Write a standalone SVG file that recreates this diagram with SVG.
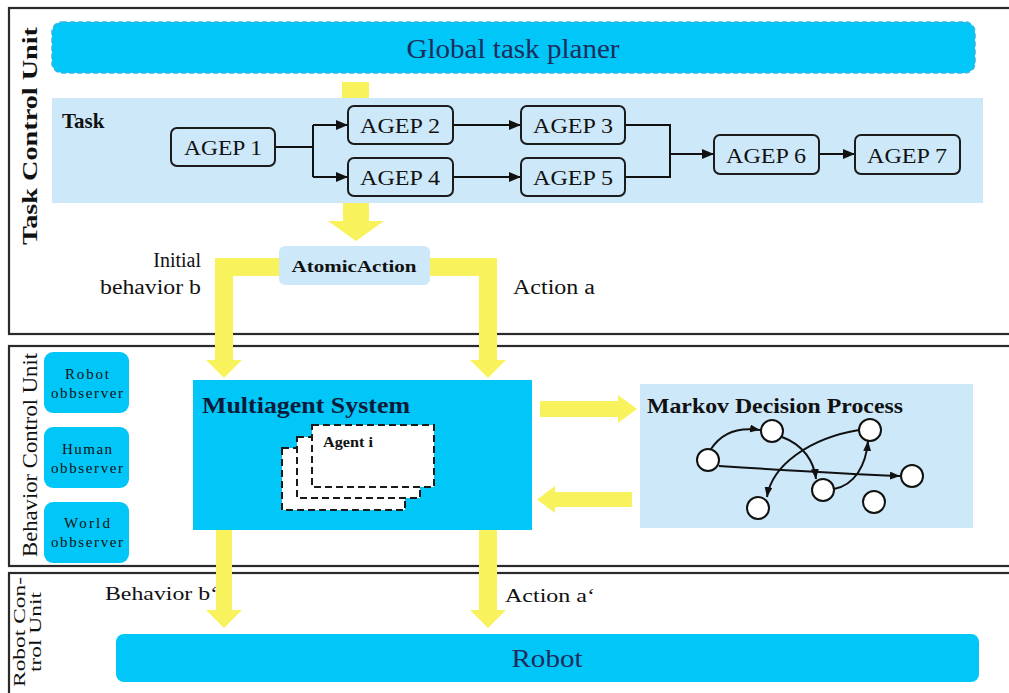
<svg xmlns="http://www.w3.org/2000/svg" width="1009" height="693" viewBox="0 0 1009 693" font-family="'Liberation Serif','DejaVu Serif',serif">
<defs>
<style>
.frame{fill:none;stroke:#2a2a2a;stroke-width:2.2}
.cyan{fill:#00c7f7}
.light{fill:#cde9f9}
.agep{fill:#cde9f9;stroke:#1b1b1b;stroke-width:2}
.t{font-family:'Liberation Serif','DejaVu Serif',serif;fill:#111}
.b{font-weight:bold}
.yel{fill:#f8f25c}
.con{fill:none;stroke:#111;stroke-width:2}
.mdp{fill:none;stroke:#111;stroke-width:2}
.st{fill:#fff;stroke:#111;stroke-width:2}
.card{fill:#fff;stroke:#1b1b1b;stroke-width:2;stroke-dasharray:7,4}
.navy{fill:#1f2d5c}
</style>
<marker id="ah" viewBox="0 0 12 10" refX="12" refY="5" markerWidth="12" markerHeight="10" markerUnits="userSpaceOnUse" orient="auto">
<path d="M0,0 L12,5 L0,10 Z" fill="#111"/>
</marker>
<marker id="sa" viewBox="0 0 10 8" refX="10" refY="4" markerWidth="10" markerHeight="8" markerUnits="userSpaceOnUse" orient="auto">
<path d="M0,0 L10,4 L0,8 Z" fill="#111"/>
</marker>
</defs>
<rect width="1009" height="693" fill="#fff"/>

<g id="frames">
<rect class="frame" x="9" y="8" width="1010" height="326"/>
<rect class="frame" x="9" y="346" width="1010" height="220"/>
<rect class="frame" x="9" y="573" width="1010" height="130"/>
<text class="t b" font-size="21" transform="translate(37,136) rotate(-90)" text-anchor="middle" textLength="218" lengthAdjust="spacingAndGlyphs">Task Control Unit</text>
<text class="t" font-size="20" transform="translate(37,455) rotate(-90)" text-anchor="middle" textLength="204" lengthAdjust="spacingAndGlyphs">Behavior Control Unit</text>
<text class="t" font-size="17" transform="translate(25,632) rotate(-90)" text-anchor="middle" textLength="110" lengthAdjust="spacingAndGlyphs">Robot Con-</text>
<text class="t" font-size="17" transform="translate(41,632) rotate(-90)" text-anchor="middle" textLength="80" lengthAdjust="spacingAndGlyphs">trol Unit</text>
</g>

<g id="planer">
<rect x="52" y="22" width="923" height="51" rx="10" class="cyan" stroke="#35b4df" stroke-width="1.5" stroke-dasharray="5,3"/>
<text class="t navy" font-size="27" x="513" y="58" text-anchor="middle" textLength="213" lengthAdjust="spacingAndGlyphs">Global task planer</text>
</g>

<g id="task">
<rect x="52" y="98" width="931" height="105" class="light"/>
<text class="t b" font-size="21" x="62" y="128">Task</text>
</g>

<g id="connectors">
<rect class="yel" x="342" y="82" width="27" height="16"/>
<polygon class="yel" points="343,203 369,203 369,221 384,221 356,241 328,221 343,221"/>
<polygon class="yel" points="279,258 215,258 215,360 206,360 224,378 242,360 233,360 233,276 279,276"/>
<polygon class="yel" points="430,258 497,258 497,360 506,360 488,378 470,360 479,360 479,276 430,276"/>
<polygon class="yel" points="216,530 232,530 232,610 242,610 224,628 206,610 216,610"/>
<polygon class="yel" points="479,530 497,530 497,610 506,610 488,628 470,610 479,610"/>
<polygon class="yel" points="540,401 618,401 618,395 637,409 618,423 618,417 540,417"/>
<polygon class="yel" points="632,492 555,492 555,486 537,499.5 555,513 555,507 632,507"/>
<path class="con" d="M275,147 H313 M313,125 V177"/>
<path class="con" d="M313,125 H348" marker-end="url(#ah)"/>
<path class="con" d="M313,177 H348" marker-end="url(#ah)"/>
<path class="con" d="M453,125 H521" marker-end="url(#ah)"/>
<path class="con" d="M453,177 H521" marker-end="url(#ah)"/>
<path class="con" d="M625,125 H670 V177 H625"/>
<path class="con" d="M670,154 H714" marker-end="url(#ah)"/>
<path class="con" d="M819,154 H855" marker-end="url(#ah)"/>
</g>

<g id="agep1"><rect class="agep" x="171" y="128" width="104" height="38" rx="6"/><text class="t" font-size="22" x="223" y="155" text-anchor="middle" textLength="78" lengthAdjust="spacingAndGlyphs">AGEP 1</text></g>
<g id="agep2"><rect class="agep" x="348" y="106" width="105" height="38" rx="6"/><text class="t" font-size="22" x="400" y="133" text-anchor="middle" textLength="80" lengthAdjust="spacingAndGlyphs">AGEP 2</text></g>
<g id="agep4"><rect class="agep" x="348" y="158" width="105" height="38" rx="6"/><text class="t" font-size="22" x="400" y="185" text-anchor="middle" textLength="80" lengthAdjust="spacingAndGlyphs">AGEP 4</text></g>
<g id="agep3"><rect class="agep" x="521" y="106" width="104" height="38" rx="6"/><text class="t" font-size="22" x="573" y="133" text-anchor="middle" textLength="80" lengthAdjust="spacingAndGlyphs">AGEP 3</text></g>
<g id="agep5"><rect class="agep" x="521" y="158" width="104" height="38" rx="6"/><text class="t" font-size="22" x="573" y="185" text-anchor="middle" textLength="80" lengthAdjust="spacingAndGlyphs">AGEP 5</text></g>
<g id="agep6"><rect class="agep" x="714" y="135" width="105" height="39" rx="6"/><text class="t" font-size="22" x="766" y="163" text-anchor="middle" textLength="80" lengthAdjust="spacingAndGlyphs">AGEP 6</text></g>
<g id="agep7"><rect class="agep" x="855" y="135" width="105" height="39" rx="6"/><text class="t" font-size="22" x="907" y="163" text-anchor="middle" textLength="80" lengthAdjust="spacingAndGlyphs">AGEP 7</text></g>

<g id="atomic">
<rect x="279" y="246" width="151" height="39" rx="6" class="light"/>
<text class="t b" font-size="17" x="354" y="272" text-anchor="middle" textLength="125" lengthAdjust="spacingAndGlyphs">AtomicAction</text>
</g>

<g id="labels">
<text class="t" font-size="20" x="201" y="267" text-anchor="end">Initial</text>
<text class="t" font-size="20" x="201" y="294" text-anchor="end" textLength="101" lengthAdjust="spacingAndGlyphs">behavior b</text>
<text class="t" font-size="20" x="513" y="294" textLength="82" lengthAdjust="spacingAndGlyphs">Action a</text>
<text class="t" font-size="19" x="105" y="600" textLength="113" lengthAdjust="spacingAndGlyphs">Behavior b‘</text>
<text class="t" font-size="19" x="505" y="602" textLength="90" lengthAdjust="spacingAndGlyphs">Action a‘</text>
</g>

<g id="observers">
<rect class="cyan" x="44" y="352" width="85" height="61" rx="9"/>
<text class="t" font-size="15" x="87" y="379" text-anchor="middle" textLength="44" lengthAdjust="spacing">Robot</text>
<text class="t" font-size="15" x="87" y="398" text-anchor="middle" textLength="72" lengthAdjust="spacing">obbserver</text>
<rect class="cyan" x="44" y="427" width="85" height="61" rx="9"/>
<text class="t" font-size="15" x="87" y="454" text-anchor="middle" textLength="50" lengthAdjust="spacing">Human</text>
<text class="t" font-size="15" x="87" y="473" text-anchor="middle" textLength="72" lengthAdjust="spacing">obbserver</text>
<rect class="cyan" x="44" y="502" width="85" height="61" rx="9"/>
<text class="t" font-size="15" x="87" y="528" text-anchor="middle" textLength="46" lengthAdjust="spacing">World</text>
<text class="t" font-size="15" x="87" y="547" text-anchor="middle" textLength="72" lengthAdjust="spacing">obbserver</text>
</g>

<g id="mas">
<rect class="cyan" x="193" y="380" width="339" height="150"/>
<text class="t b" font-size="23" x="202" y="413" textLength="208" lengthAdjust="spacingAndGlyphs" style="fill:#0c1a3a">Multiagent System</text>
<rect class="card" x="282" y="448" width="123" height="62"/>
<rect class="card" x="297" y="437" width="123" height="61"/>
<rect class="card" x="312" y="425" width="122" height="62"/>
<text class="t b" font-size="15" x="323" y="447" textLength="50" lengthAdjust="spacingAndGlyphs">Agent i</text>
</g>

<g id="mdp">
<rect class="light" x="640" y="384" width="333" height="144"/>
<text class="t b" font-size="21" x="647" y="413" textLength="256" lengthAdjust="spacingAndGlyphs">Markov Decision Process</text>
<path class="mdp" d="M711,449 C722,432 740,427 760,430" marker-end="url(#sa)"/>
<path class="mdp" d="M719,466 C780,470 850,474 900,476" marker-end="url(#sa)"/>
<path class="mdp" d="M782,437 C804,445 814,462 816,479" marker-end="url(#sa)"/>
<path class="mdp" d="M834,489 C855,485 866,465 868,441" marker-end="url(#sa)"/>
<path class="mdp" d="M859,430 C810,438 772,465 767,497" marker-end="url(#sa)"/>
<circle class="st" cx="708" cy="460" r="11"/>
<circle class="st" cx="772" cy="431" r="11"/>
<circle class="st" cx="870" cy="430" r="11"/>
<circle class="st" cx="912" cy="476" r="11"/>
<circle class="st" cx="823" cy="490" r="11"/>
<circle class="st" cx="758" cy="508" r="11"/>
<circle class="st" cx="874" cy="502" r="11"/>
</g>

<g id="robot">
<rect class="cyan" x="116" y="634" width="863" height="48" rx="8"/>
<text class="t navy" font-size="25" x="547" y="667" text-anchor="middle" textLength="71" lengthAdjust="spacingAndGlyphs">Robot</text>
</g>
</svg>
